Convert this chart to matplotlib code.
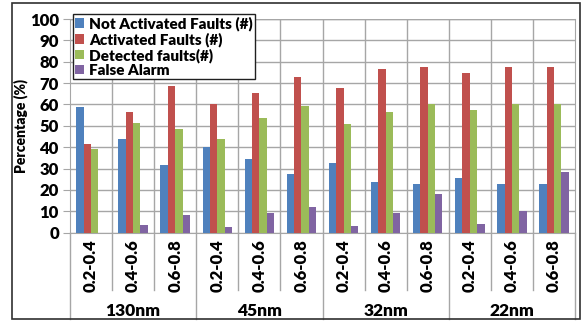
import numpy as np
import matplotlib.pyplot as plt
from matplotlib.patches import Rectangle

plt.rcParams['font.family'] = ['Lato', 'DejaVu Sans']
plt.rcParams['font.weight'] = 'heavy'
plt.rcParams['axes.labelweight'] = 'heavy'

# data
nodes = ['130nm', '45nm', '32nm', '22nm']
ranges = ['0.2-0.4', '0.4-0.6', '0.6-0.8']
not_activated = [58.9, 43.7, 31.6, 40.1, 34.7, 27.5, 32.6, 23.8, 22.9, 25.7, 22.9, 22.9]
activated = [41.4, 56.5, 68.8, 60.2, 65.3, 72.8, 67.8, 76.5, 77.4, 74.5, 77.4, 77.4]
detected = [39.3, 51.4, 48.4, 43.8, 53.6, 59.2, 50.9, 56.7, 60.2, 57.4, 60.2, 60.2]
false_alarm = [0.0, 3.7, 8.1, 2.5, 9.4, 12.2, 3.1, 9.1, 18.3, 3.9, 10.2, 28.3]

series = [
    ('Not Activated Faults (#)', not_activated, '#4F81BD'),
    ('Activated Faults (#)', activated, '#C0504D'),
    ('Detected faults(#)', detected, '#9BBB59'),
    ('False Alarm', false_alarm, '#8064A2'),
]

W, H = 581, 322
fig = plt.figure(figsize=(W / 100, H / 100), dpi=100)
ax = fig.add_axes([70 / W, (H - 232.7) / H, 505 / W, (232.7 - 19) / H])

n = len(nodes) * len(ranges)
x = np.arange(n)
bw = 0.175
for i, (name, vals, col) in enumerate(series):
    ax.bar(x + (i - 1.5) * bw, vals, bw, color=col, label=name, zorder=3)

grid_col = '#A6A6A6'
ax.set_xlim(-0.5, n - 0.5)
ax.set_ylim(0, 100)
ax.set_yticks(range(0, 101, 10))
ax.tick_params(axis='y', labelsize=12, length=5, color=grid_col, pad=3)
ax.tick_params(axis='x', length=0, labelbottom=False)
ax.yaxis.grid(True, color=grid_col, lw=1, zorder=0)
for k in range(n - 1):
    ax.axvline(k + 0.5, color=grid_col, lw=1, zorder=0)
for s in ['left', 'bottom', 'right', 'top']:
    ax.spines[s].set_color(grid_col)
ax.spines['top'].set_visible(False)
ax.axhline(100, color=grid_col, lw=1, zorder=0)

ax.set_ylabel('Percentage (%)', fontsize=10, labelpad=1)

# category axis below the plot
trans = ax.get_xaxis_transform()
px = 1 / (232.7 - 19)
for k in range(n):
    ax.text(k, -(266 - 232.7) * px, ranges[k % 3], rotation=90, ha='center',
            va='center', fontsize=12, transform=trans)
for k in range(n + 1):
    depth = 319 if k % 3 == 0 else 290
    ax.plot([k - 0.5, k - 0.5], [0, -(depth - 232.7) * px], color=grid_col,
            lw=1, transform=trans, clip_on=False)
for g, name in enumerate(nodes):
    ax.text(g * 3 + 1, -(311 - 232.7) * px, name, ha='center', va='center',
            fontsize=12.5, transform=trans)

leg = fig.legend(loc='upper left', bbox_to_anchor=(73 / W, 1 - 14 / H),
                 fontsize=11, frameon=True, fancybox=False, handlelength=0.6,
                 handleheight=0.6, handletextpad=0.3, borderpad=0.15,
                 labelspacing=0.08, borderaxespad=0)
leg.get_frame().set_edgecolor('#202020')
leg.get_frame().set_linewidth(1)
leg.get_frame().set_alpha(1)

fig.add_artist(Rectangle((12 / W, 3 / H), 568 / W, 316.5 / H, fill=False,
                         edgecolor='#303030', lw=1.2, transform=fig.transFigure))

fig.savefig('out.png', dpi=100)
